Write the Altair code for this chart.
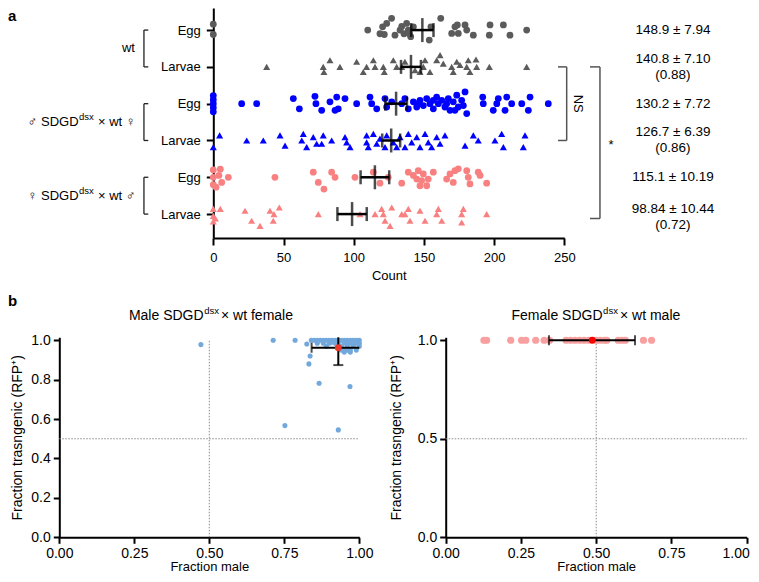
import altair as alt
import pandas as pd

FONT = "Liberation Sans"

# ---------------- panel a : counts (x) and vertical jitter (row units) ----------------
row_labels = ["Egg", "Larvae", "Egg", "Larvae", "Egg", "Larvae"]
row_groups = ["wt", "wt", "mSDGD", "mSDGD", "fSDGD", "fSDGD"]

wt_egg_count = [0, 0, 110.0, 118.7, 120.6, 123.5, 127.0, 121.8, 129.4, 133.0, 134.2, 135.8, 137.7,
                138.9, 140.6, 142.5, 139.6, 153.8, 155.0, 162.0, 169.8, 172.1, 173.8, 174.5, 179.3,
                180.5, 185.2, 197.1, 196.6, 206.6, 211.3, 223.2]
wt_egg_jit = [-0.16, 0.12, 0, 0.1, -0.09, -0.18, -0.32, 0.12, 0.14, 0, -0.1, 0.1, -0.18, 0, 0.18,
              -0.09, 0.1, 0.27, -0.09, -0.32, 0.09, -0.09, -0.14, 0.09, -0.14, 0, 0.14, -0.14, 0.14,
              -0.14, 0.14, 0]

wt_lar_count = [38.0, 78.3, 78.8, 83.1, 90.2, 102.1, 106.8, 109.2, 114.0, 115.2, 121.1, 121.8, 128.2,
                130.6, 134.2, 136.5, 143.7, 147.2, 149.6, 150.8, 154.3, 159.1, 161.5, 163.8, 169.8,
                170.9, 173.4, 175.7, 180.5, 181.6, 182.8, 187.6, 187.1, 196.6, 223.2]
wt_lar_jit = [0, 0, 0.14, -0.18, 0, -0.14, 0.14, 0, -0.18, 0, 0, 0.14, -0.18, 0, 0, -0.14, 0.09,
              0.14, 0, -0.18, 0.14, -0.18, -0.32, -0.09, 0, 0.14, -0.14, -0.05, 0, -0.18, 0.14, 0,
              -0.2, 0, 0]

m_egg_count = [0, 0, 0, 0, 0, 20.2, 30.9, 57.0, 61.3, 72.4, 73.1, 77.2, 83.1, 87.9, 86.7, 89.0, 93.8,
               102.1, 111.6, 112.8, 116.4, 122.3, 123.5, 127.1, 134.2, 136.5, 138.9, 142.5, 144.9,
               147.2, 149.6, 152.0, 154.3, 156.7, 159.1, 160.3, 162.7, 165.0, 167.4, 168.6, 170.9,
               173.4, 174.5, 176.9, 179.3, 178.1, 180.5, 146.0, 156.7, 166.2, 172.1, 191.9, 192.3,
               199.4, 201.9, 203.0, 207.8, 209.0, 212.5, 219.7, 225.6, 224.4, 238.6]
m_egg_jit = [-0.22, -0.11, 0, 0.11, 0.22, 0, 0, -0.14, 0.14, -0.2, 0, 0.18, -0.05, -0.18, 0.18, 0.14,
             -0.14, 0, -0.18, 0, 0.14, -0.14, 0.09, -0.05, 0, -0.14, 0.14, -0.05, 0.09, -0.09, 0.05,
             -0.14, 0, 0.14, -0.18, 0, -0.09, 0.09, -0.14, 0.18, -0.05, -0.23, 0.09, -0.09, -0.32,
             0.05, 0.27, 0, -0.09, 0, 0.18, -0.18, 0, 0.18, 0, -0.14, 0.18, -0.18, 0, 0, -0.18,
             0.18, 0]

m_lar_count = [0, 4.5, 23.8, 35.6, 47.5, 51.1, 64.1, 63.0, 66.5, 71.2, 73.6, 78.3, 77.2, 84.3, 93.8,
               95.0, 97.4, 109.2, 109.2, 110.4, 114.0, 116.4, 118.7, 122.3, 123.5, 128.2, 130.6,
               133.0, 136.5, 138.9, 141.3, 144.9, 147.2, 150.8, 153.1, 155.5, 159.1, 161.5, 165.0,
               179.3, 185.2, 188.7, 200.6, 205.4, 206.6, 222.0, 220.8]
m_lar_jit = [0.18, -0.14, 0, 0, -0.14, 0.14, -0.18, 0, 0.18, -0.09, 0.09, -0.14, 0.09, 0, -0.09,
             0.05, 0.18, -0.14, 0.05, 0.18, -0.18, 0.09, -0.05, 0.18, -0.14, 0.05, 0.18, -0.09,
             0.18, -0.18, 0.05, -0.09, 0.18, -0.18, 0.05, 0.18, -0.09, 0.09, -0.14, 0.14, -0.14, 0,
             0, -0.18, 0.18, -0.14, 0.18]

f_egg_count = [0, 0, 0, 2, 4, 5, 6, 10.7, 43.9, 71.2, 74.8, 78.8, 84.3, 86.7, 100.9, 114.0, 118.7,
               124.6, 134.2, 138.9, 142.5, 144.9, 146.0, 148.4, 149.6, 152.0, 153.1, 156.7, 166.2,
               168.6, 170.9, 172.1, 174.5, 180.5, 181.6, 182.8, 188.7, 190.0, 194.7, 147.2]
f_egg_jit = [-0.2, 0, 0.2, 0.27, -0.05, -0.22, 0.14, 0, 0, -0.14, 0.14, 0.32, -0.14, 0, 0, -0.14,
             0.16, 0, 0.16, -0.14, -0.05, 0.05, -0.18, 0.09, -0.09, 0.23, 0.05, -0.14, 0.05, -0.09,
             0.14, -0.18, -0.23, -0.18, 0, 0.18, -0.14, -0.05, 0.16, 0.23]

f_lar_count = [0, 0, 0, 1.5, 5, 22.6, 27.3, 33.3, 40.4, 42.7, 47.0, 43.2, 74.8, 104.5, 115.2, 119.9,
               121.1, 122.3, 125.9, 127.1, 134.2, 136.5, 138.9, 140.1, 147.2, 150.8, 159.1, 160.3,
               162.7, 176.9, 178.1, 176.9, 194.7]
f_lar_jit = [-0.14, 0.05, 0.2, 0.12, -0.14, -0.09, 0.18, 0.32, -0.09, 0.18, -0.18, 0, 0, 0, 0,
             -0.14, 0, 0.18, 0.32, -0.18, 0, 0, -0.14, 0.18, -0.09, 0.18, 0, -0.14, 0.18, 0, -0.14,
             0.23, 0]

means = [148.9, 140.8, 130.2, 126.7, 115.1, 98.84]
sems = [7.94, 7.10, 7.72, 6.39, 10.19, 10.44]

stat_lines = ["148.9 ± 7.94", "140.8 ± 7.10", "(0.88)", "130.2 ± 7.72", "126.7 ± 6.39", "(0.86)",
              "115.1 ± 10.19", "98.84 ± 10.44", "(0.72)"]
stat_rows = [0.0, 0.79, 1.23, 2.02, 2.76, 3.2, 3.99, 4.86, 5.3]

group_names = ["wt", "♂ SDGD", "♀ SDGD"]
group_tails = ["", "× wt ♀", "× wt ♂"]
group_rows = [0.5, 2.5, 4.5]

# ---------------- panel b ----------------
male_x = [0.472, 0.713, 0.786, 0.825, 0.836, 0.832, 0.866, 0.752, 0.930, 0.969,
          0.84, 0.85, 0.86, 0.87, 0.88, 0.89, 0.90, 0.91, 0.92, 0.93, 0.94, 0.95, 0.96, 0.97,
          0.98, 0.99, 1.0, 0.86, 0.88, 0.90, 0.92, 0.95, 0.97, 0.99, 1.0, 0.89, 0.94, 0.96, 0.98,
          1.0, 0.94, 0.95, 0.96, 0.97, 0.99, 0.95, 0.97, 0.91, 0.93, 0.96, 0.985]
male_y = [0.978, 1.0, 1.0, 0.981, 0.920, 0.880, 0.782, 0.567, 0.545, 0.765,
          1.0, 1.0, 1.0, 1.0, 1.0, 1.0, 1.0, 1.0, 1.0, 1.0, 1.0, 1.0, 1.0, 1.0,
          1.0, 1.0, 1.0, 0.985, 0.985, 0.985, 0.985, 0.985, 0.985, 0.985, 0.985, 0.97, 0.97, 0.97,
          0.97, 0.97, 0.95, 0.95, 0.95, 0.95, 0.95, 0.94, 0.94, 0.99, 0.99, 0.99, 0.99]
male_mean_x, male_mean_y = 0.930, 0.962
male_x_lo, male_x_hi = 0.841, 1.0
male_y_lo, male_y_hi = 0.874, 1.015

female_x = [0.127, 0.136, 0.216, 0.252, 0.266, 0.299, 0.327, 0.345, 0.40, 0.415, 0.43, 0.445,
            0.46, 0.475, 0.50, 0.513, 0.527, 0.535, 0.573, 0.585, 0.597, 0.657, 0.684]
female_y = [1.0] * len(female_x)
female_mean_x, female_mean_y = 0.487, 1.0
female_x_lo, female_x_hi = 0.343, 0.629

# ======================= panel a =======================
counts = [wt_egg_count, wt_lar_count, m_egg_count, m_lar_count, f_egg_count, f_lar_count]
jits = [wt_egg_jit, wt_lar_jit, m_egg_jit, m_lar_jit, f_egg_jit, f_lar_jit]
recs = []
for i, (cs, js) in enumerate(zip(counts, jits)):
    for c, j in zip(cs, js):
        recs.append({"count": c, "pos": i + j, "grp": row_groups[i], "stage": row_labels[i]})
pts = pd.DataFrame(recs)

stats = pd.DataFrame({"row": list(range(6)), "mean": means, "sem": sems})
stats["lo"] = stats["mean"] - stats["sem"]
stats["hi"] = stats["mean"] + stats["sem"]


def xa():
    return alt.Scale(domain=[0, 250], range=[205.3, 556.3], nice=False, zero=False)


def ya():
    return alt.Scale(domain=[-0.6, 5.65], range=[0, 230], nice=False, zero=False)


def AX(field):
    return alt.X(field, scale=xa(), axis=None)


def AY(field):
    return alt.Y(field, scale=ya(), axis=None)


layers = []

layers.append(alt.Chart(pts).mark_point(filled=True, opacity=1, strokeWidth=0).encode(
    x=alt.X("count:Q", scale=xa(), axis=alt.Axis(
        orient="bottom", offset=-336, values=[0, 50, 100, 150, 200, 250], title="Count",
        domainWidth=2, tickWidth=2, tickSize=7, labelFontSize=13, labelPadding=6,
        titleFontSize=13, titlePadding=5)),
    y=alt.Y("pos:Q", scale=ya(), axis=alt.Axis(
        orient="left", offset=-205.3, values=[0, 1, 2, 3, 4, 5], title=None,
        labelExpr="datum.value % 2 == 0 ? 'Egg' : 'Larvae'",
        domainWidth=2, tickWidth=2, tickSize=7, labelFontSize=13, labelPadding=6)),
    color=alt.Color("grp:N", scale=alt.Scale(domain=["wt", "mSDGD", "fSDGD"],
                                             range=["#5b5b5b", "#0000ff", "#f98080"]), legend=None),
    shape=alt.Shape("stage:N", scale=alt.Scale(domain=["Egg", "Larvae"],
                                               range=["circle", "triangle-up"]), legend=None),
    size=alt.Size("stage:N", scale=alt.Scale(domain=["Egg", "Larvae"], range=[46, 50]), legend=None),
))

layers.append(alt.Chart(stats).mark_rule(strokeWidth=2.5, color="black").encode(
    x=AX("lo:Q"), x2="hi:Q", y=AY("row:Q")))
layers.append(alt.Chart(stats).transform_fold(["lo", "hi"], as_=["k", "v"]).mark_tick(
    orient="vertical", size=14, thickness=2.5, color="black").encode(x=AX("v:Q"), y=AY("row:Q")))
layers.append(alt.Chart(stats).mark_tick(orient="vertical", size=24, thickness=2.5,
                                         color="black").encode(x=AX("mean:Q"), y=AY("row:Q")))

stat_df = pd.DataFrame({"t": stat_lines, "row": stat_rows, "x": [327.4] * len(stat_lines)})
layers.append(alt.Chart(stat_df).mark_text(fontSize=13.5, align="center", baseline="middle",
                                           color="black").encode(x=AX("x:Q"), y=AY("row:Q"), text="t:N"))

rb = pd.DataFrame({
    "x": [251.7, 245.5, 245.5, 275.4, 268.3, 268.3],
    "x2": [251.7, 251.7, 251.7, 275.4, 275.4, 275.4],
    "y": [1, 1, 3, 1, 1, 5.12],
    "y2": [3, 1, 3, 5.12, 1, 5.12]})
layers.append(alt.Chart(rb).mark_rule(color="#555555", strokeWidth=1.5).encode(
    x=AX("x:Q"), x2="x2:Q", y=AY("y:Q"), y2="y2:Q"))
lb = pd.DataFrame({
    "x": [-49.4, -49.4, -49.4, -49.4, -49.4, -49.4, -49.4, -49.4, -49.4],
    "x2": [-49.4, -46.3, -46.3, -49.4, -46.3, -46.3, -49.4, -46.3, -46.3],
    "y": [0, 0, 1, 2, 2, 3, 4, 4, 5],
    "y2": [1, 0, 1, 3, 2, 3, 5, 4, 5]})
layers.append(alt.Chart(lb).mark_rule(color="#222222", strokeWidth=1.3).encode(
    x=AX("x:Q"), x2="x2:Q", y=AY("y:Q"), y2="y2:Q"))

ns_df = pd.DataFrame({"t": ["NS"], "x": [259.9], "row": [2.0]})
layers.append(alt.Chart(ns_df).mark_text(fontSize=13, angle=90, align="center", baseline="middle",
                                         color="black").encode(x=AX("x:Q"), y=AY("row:Q"), text="t:N"))
star_df = pd.DataFrame({"t": ["*"], "x": [283.2], "row": [3.12]})
layers.append(alt.Chart(star_df).mark_text(fontSize=13, align="center", baseline="middle",
                                           color="black").encode(x=AX("x:Q"), y=AY("row:Q"), text="t:N"))

wt_df = pd.DataFrame({"t": [group_names[0]], "x": [-55.8], "row": [group_rows[0]]})
layers.append(alt.Chart(wt_df).mark_text(fontSize=13, align="right", baseline="middle",
                                         color="black").encode(x=AX("x:Q"), y=AY("row:Q"), text="t:N"))
g_df = pd.DataFrame({"head": group_names[1:], "tail": group_tails[1:], "row": group_rows[1:],
                     "xh": [-96.0, -96.0], "xs": [-95.6, -95.6], "xt": [-82.1, -82.1]})
layers.append(alt.Chart(g_df).mark_text(fontSize=13, align="right", baseline="middle",
                                        color="black").encode(x=AX("xh:Q"), y=AY("row:Q"), text="head:N"))
layers.append(alt.Chart(g_df).mark_text(fontSize=9.5, align="left", baseline="middle", dy=-5,
                                        color="black").encode(x=AX("xs:Q"), y=AY("row:Q"),
                                                              text=alt.value("dsx")))
layers.append(alt.Chart(g_df).mark_text(fontSize=13, align="left", baseline="middle",
                                        color="black").encode(x=AX("xt:Q"), y=AY("row:Q"), text="tail:N"))

# ======================= panel b =======================
YB_RANGE = [529.3, 329.3]


def add_panel(px, py, mx, my, xlo, xhi, ylo, yhi, pcolor, psize, mcolor, xr, yvals, head, tail,
              xhead, xsup, xtail, both_caps, ytitle_pad, last_label_shift):
    def xs():
        return alt.Scale(domain=[0, 1], range=xr, nice=False, zero=False)

    def ys():
        return alt.Scale(domain=[0, 1.015], range=YB_RANGE, nice=False, zero=False)

    def BX(f):
        return alt.X(f, scale=xs(), axis=None)

    def BY(f):
        return alt.Y(f, scale=ys(), axis=None)

    ref = pd.DataFrame({"x": [0, 0.5], "x2": [1, 0.5], "y": [0.5, 0], "y2": [0.5, 1]})
    layers.append(alt.Chart(ref).mark_rule(color="#8a8a8a", strokeWidth=1,
                                           strokeDash=[1.5, 1.5]).encode(
        x=alt.X("x:Q", scale=xs(), axis=alt.Axis(
            orient="bottom", offset=YB_RANGE[0] - 566, values=[0, 0.25, 0.5, 0.75, 1.0],
            format=".2f", title="Fraction male", domainWidth=2, tickWidth=2, tickSize=6,
            labelFontSize=14, labelPadding=3, titleFontSize=13, titleBaseline="alphabetic",
            titleY=33.5,
            labelOffset={"condition": {"test": "datum.value == 1", "value": last_label_shift},
                         "value": 0})),
        x2="x2:Q",
        y=alt.Y("y:Q", scale=ys(), axis=alt.Axis(
            orient="left", offset=-xr[0], values=yvals, format=".1f",
            title="Fraction trasngenic (RFP⁺)", domainWidth=2, tickWidth=2, tickSize=6,
            labelFontSize=14, labelPadding=3, titleFontSize=14, titlePadding=ytitle_pad)),
        y2="y2:Q"))
    pdf = pd.DataFrame({"x": px, "y": py})
    layers.append(alt.Chart(pdf).mark_circle(size=psize, opacity=1, color=pcolor).encode(
        x=BX("x:Q"), y=BY("y:Q")))
    eb = pd.DataFrame({"mx": [mx], "my": [my], "xlo": [xlo], "xhi": [xhi], "ylo": [ylo], "yhi": [yhi]})
    layers.append(alt.Chart(eb).mark_rule(color="black", strokeWidth=2).encode(
        x=BX("xlo:Q"), x2="xhi:Q", y=BY("my:Q")))
    if both_caps:
        layers.append(alt.Chart(eb).transform_fold(["xlo", "xhi"], as_=["k", "v"]).mark_tick(
            orient="vertical", size=10, thickness=2, color="black").encode(x=BX("v:Q"), y=BY("my:Q")))
    else:
        layers.append(alt.Chart(eb).mark_rule(color="black", strokeWidth=2).encode(
            x=BX("mx:Q"), y=BY("ylo:Q"), y2="yhi:Q"))
        layers.append(alt.Chart(eb).mark_tick(orient="vertical", size=10, thickness=2,
                                              color="black").encode(x=BX("xlo:Q"), y=BY("my:Q")))
        layers.append(alt.Chart(eb).mark_tick(orient="horizontal", size=10, thickness=2,
                                              color="black").encode(x=BX("mx:Q"), y=BY("ylo:Q")))
    layers.append(alt.Chart(eb).mark_circle(size=48, opacity=1, color=mcolor).encode(
        x=BX("mx:Q"), y=BY("my:Q")))
    t = pd.DataFrame({"head": [head], "tail": [tail], "xh": [xhead], "xs": [xsup], "xt": [xtail],
                      "y": [1.123]})
    layers.append(alt.Chart(t).mark_text(fontSize=14, align="right", baseline="middle",
                                         color="black").encode(x=BX("xh:Q"), y=BY("y:Q"), text="head:N"))
    layers.append(alt.Chart(t).mark_text(fontSize=9.5, align="left", baseline="middle", dy=-5,
                                         color="black").encode(x=BX("xs:Q"), y=BY("y:Q"),
                                                               text=alt.value("dsx")))
    layers.append(alt.Chart(t).mark_text(fontSize=14, align="left", baseline="middle",
                                         color="black").encode(x=BX("xt:Q"), y=BY("y:Q"), text="tail:N"))


add_panel(male_x, male_y, male_mean_x, male_mean_y, male_x_lo, male_x_hi, male_y_lo, male_y_hi,
          "#72a8dc", 26, "#e8392a", [51.3, 351.3], [0, 0.2, 0.4, 0.6, 0.8, 1.0],
          "Male SDGD", "× wt female", 0.481, 0.483, 0.539, False, 6, 0)
add_panel(female_x, female_y, female_mean_x, female_mean_y, female_x_lo, female_x_hi,
          female_mean_y, female_mean_y, "#f8a0a0", 52, "#ff0000", [437.7, 738.7], [0, 0.5, 1.0],
          "Female SDGD", "× wt male", 0.521, 0.523, 0.579, True, 14, -11)

# panel letters
layers.append(alt.Chart(pd.DataFrame({"t": ["a"]})).mark_text(
    fontSize=15, fontWeight="bold", align="left", baseline="middle", color="black").encode(
    x=alt.value(0), y=alt.value(8), text="t:N"))
layers.append(alt.Chart(pd.DataFrame({"t": ["b"]})).mark_text(
    fontSize=15, fontWeight="bold", align="left", baseline="middle", color="black").encode(
    x=alt.value(0), y=alt.value(293), text="t:N"))

chart = alt.layer(*layers).resolve_scale(
    x="independent", y="independent").resolve_axis(x="independent", y="independent").properties(
    width=743, height=566, autosize=alt.AutoSizeParams(type="none"), padding=0
).configure_view(stroke=None).configure_axis(
    grid=False, labelFont=FONT, titleFont=FONT, domainColor="black", tickColor="black",
    labelColor="black", titleColor="black", titleFontWeight="normal", labelFlush=False,
    labelOverlap=False
).configure_text(font=FONT)

chart.save("out.html", embed_options={"renderer": "svg", "actions": False})
